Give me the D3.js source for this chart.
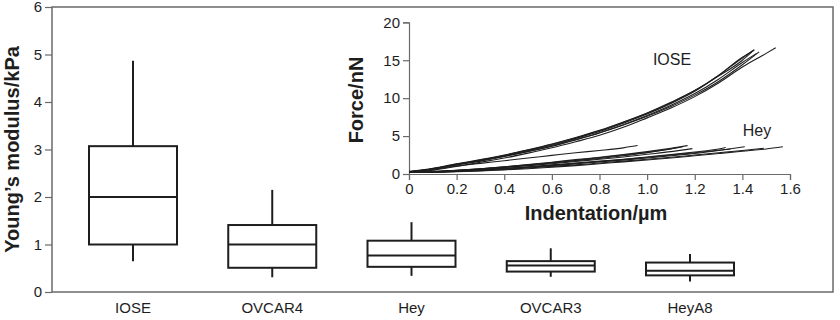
<!DOCTYPE html>
<html><head><meta charset="utf-8">
<script src="https://cdn.jsdelivr.net/npm/d3@7"></script>
<style>body{margin:0;background:#fff}svg{display:block;font-family:"Liberation Sans",Arial,sans-serif}</style>
</head><body><svg id="c" width="840" height="320"></svg>
<script>
// ---- main box plot data ----
const categories = ["IOSE","OVCAR4","Hey","OVCAR3","HeyA8"];
const whiskerLow  = [0.65, 0.31, 0.34, 0.32, 0.22];
const q1          = [1.00, 0.51, 0.53, 0.43, 0.35];
const median      = [2.00, 1.00, 0.77, 0.56, 0.45];
const q3          = [3.07, 1.41, 1.08, 0.65, 0.62];
const whiskerHigh = [4.87, 2.15, 1.47, 0.92, 0.80];
const yTicks = [0,1,2,3,4,5,6];

// ---- inset force curves ----
const insetXTicks = [0,0.2,0.4,0.6,0.8,1.0,1.2,1.4,1.6];
const insetXTickLabels = ["0","0.2","0.4","0.6","0.8","1.0","1.2","1.4","1.6"];
const insetYTicks = [0,5,10,15,20];
const ioseCurves = [
 [[0,0.3],[0.1,0.7],[0.2,1.3],[0.3,1.8],[0.4,2.4],[0.5,3.1],[0.6,3.8],[0.7,4.7],[0.8,5.6],[0.9,6.7],[1.0,7.9],[1.1,9.3],[1.2,10.9],[1.3,13.0],[1.4,15.3],[1.45,16.4]],
 [[0,0.35],[0.1,0.75],[0.2,1.35],[0.3,1.9],[0.4,2.5],[0.5,3.2],[0.6,3.95],[0.7,4.8],[0.8,5.75],[0.9,6.85],[1.0,8.05],[1.1,9.45],[1.2,11.0],[1.3,12.9],[1.4,15.0],[1.44,16.1]],
 [[0,0.25],[0.1,0.6],[0.2,1.2],[0.3,1.7],[0.4,2.3],[0.5,2.95],[0.6,3.65],[0.7,4.5],[0.8,5.4],[0.9,6.45],[1.0,7.6],[1.1,8.9],[1.2,10.4],[1.3,12.2],[1.4,14.4],[1.47,16.1]],
 [[0,0.3],[0.1,0.65],[0.2,1.2],[0.3,1.75],[0.4,2.35],[0.5,3.0],[0.6,3.7],[0.7,4.55],[0.8,5.45],[0.9,6.5],[1.0,7.7],[1.1,9.05],[1.2,10.6],[1.3,12.5],[1.4,14.7],[1.46,15.9]],
 [[0,0.2],[0.1,0.5],[0.2,1.0],[0.3,1.55],[0.4,2.1],[0.5,2.75],[0.6,3.45],[0.7,4.25],[0.8,5.1],[0.9,6.15],[1.0,7.4],[1.1,8.7],[1.2,10.2],[1.3,12.0],[1.4,14.1],[1.5,15.9],[1.54,16.65]],
 [[0,0.3],[0.1,0.7],[0.2,1.25],[0.3,1.85],[0.4,2.45],[0.5,3.15],[0.6,3.9],[0.7,4.75],[0.8,5.7],[0.9,6.8],[1.0,8.0],[1.1,9.4],[1.2,11.0],[1.3,13.0],[1.4,15.4],[1.45,16.3]]
];
const heyCurves = [
 [[0,0.3],[0.1,0.6],[0.2,1.05],[0.3,1.4],[0.4,1.75],[0.5,2.1],[0.6,2.45],[0.7,2.8],[0.8,3.1],[0.9,3.45],[0.96,3.75]],
 [[0,0.3],[0.1,0.35],[0.2,0.5],[0.3,0.7],[0.4,0.95],[0.5,1.25],[0.6,1.55],[0.7,1.9],[0.8,2.2],[0.9,2.55],[1.0,2.95],[1.1,3.4],[1.17,3.75]],
 [[0,0.25],[0.1,0.3],[0.2,0.45],[0.3,0.65],[0.4,0.9],[0.5,1.15],[0.6,1.45],[0.7,1.75],[0.8,2.05],[0.9,2.4],[1.0,2.8],[1.1,3.3],[1.15,3.6]],
 [[0,0.3],[0.1,0.3],[0.2,0.45],[0.3,0.6],[0.4,0.85],[0.5,1.1],[0.6,1.35],[0.7,1.65],[0.8,1.95],[0.9,2.25],[1.0,2.6],[1.1,2.95],[1.19,3.35]],
 [[0,0.25],[0.1,0.3],[0.2,0.4],[0.3,0.55],[0.4,0.75],[0.5,0.95],[0.6,1.2],[0.7,1.45],[0.8,1.7],[0.9,1.95],[1.0,2.25],[1.1,2.55],[1.2,2.9],[1.3,3.3],[1.33,3.5]],
 [[0,0.2],[0.1,0.25],[0.2,0.35],[0.3,0.5],[0.4,0.7],[0.5,0.9],[0.6,1.1],[0.7,1.35],[0.8,1.6],[0.9,1.85],[1.0,2.1],[1.1,2.4],[1.2,2.7],[1.3,3.1],[1.41,3.6]],
 [[0,0.2],[0.1,0.25],[0.2,0.35],[0.3,0.45],[0.4,0.6],[0.5,0.8],[0.6,1.0],[0.7,1.2],[0.8,1.45],[0.9,1.7],[1.0,1.95],[1.1,2.2],[1.2,2.5],[1.3,2.8],[1.4,3.1],[1.49,3.4]],
 [[0,0.2],[0.1,0.2],[0.2,0.3],[0.3,0.4],[0.4,0.55],[0.5,0.7],[0.6,0.9],[0.7,1.1],[0.8,1.35],[0.9,1.6],[1.0,1.85],[1.1,2.1],[1.2,2.4],[1.3,2.7],[1.4,3.0],[1.5,3.3],[1.57,3.6]],
 [[0,0.25],[0.1,0.3],[0.2,0.4],[0.3,0.55],[0.4,0.7],[0.5,0.9],[0.6,1.15],[0.7,1.4],[0.8,1.65],[0.9,1.9],[1.0,2.2],[1.1,2.5],[1.2,2.8],[1.35,3.3]],
 [[0,0.3],[0.1,0.35],[0.2,0.5],[0.3,0.7],[0.4,0.95],[0.5,1.2],[0.6,1.5],[0.7,1.8],[0.8,2.15],[0.9,2.5],[1.0,2.85],[1.13,3.5]]
];

const svg = d3.select("#c");
const ink = "#1e1e1e", frame = "#6a6a6a";

// ---- main plot ----
const M = {l:52, r:833, t:7, b:292};
const x = d3.scalePoint().domain(categories).range([133, 690]);
const y = d3.scaleLinear().domain([0,6]).range([M.b, M.t]);
const boxW = 88;

svg.append("rect").attr("x",M.l).attr("y",M.t).attr("width",M.r-M.l).attr("height",M.b-M.t)
  .attr("fill","none").attr("stroke",frame).attr("stroke-width",1.5);

const yAx = svg.append("g").attr("transform",`translate(${M.l},0)`)
  .call(d3.axisLeft(y).tickValues(yTicks).tickSize(7).tickPadding(3).tickFormat(d3.format("d")));
yAx.select(".domain").remove();
yAx.selectAll("line").attr("stroke",frame).attr("stroke-width",1.2);
yAx.selectAll("text").attr("font-size",15).attr("fill",ink).attr("font-family","Liberation Sans, Arial, sans-serif");

svg.append("g").selectAll("text").data(categories).join("text")
  .attr("x",d=>x(d)).attr("y",313).attr("text-anchor","middle")
  .attr("font-size",15).attr("fill",ink).text(d=>d);

svg.append("text").attr("transform",`translate(19,${(M.t+M.b)/2}) rotate(-90)`)
  .attr("text-anchor","middle").attr("font-size",20).attr("font-weight","bold").attr("fill",ink)
  .text("Young’s modulus/kPa");

const boxes = svg.append("g").attr("stroke",ink).attr("stroke-width",2).attr("fill","none");
categories.forEach((c,i)=>{
  const cx = x(c);
  boxes.append("line").attr("x1",cx).attr("x2",cx).attr("y1",y(whiskerHigh[i])).attr("y2",y(q3[i]));
  boxes.append("line").attr("x1",cx).attr("x2",cx).attr("y1",y(q1[i])).attr("y2",y(whiskerLow[i]));
  boxes.append("rect").attr("x",cx-boxW/2).attr("width",boxW)
    .attr("y",y(q3[i])).attr("height",y(q1[i])-y(q3[i])).attr("fill","#fff");
  boxes.append("line").attr("x1",cx-boxW/2).attr("x2",cx+boxW/2).attr("y1",y(median[i])).attr("y2",y(median[i]));
});

// ---- inset ----
const ix = d3.scaleLinear().domain([0,1.6]).range([409, 790]);
const iy = d3.scaleLinear().domain([0,20]).range([174, 22.3]);

const ixAx = svg.append("g").attr("transform","translate(0,174)")
  .call(d3.axisBottom(ix).tickValues(insetXTicks).tickSizeOuter(0).tickSize(6).tickPadding(3)
    .tickFormat((d,i)=>insetXTickLabels[i]));
const iyAx = svg.append("g").attr("transform","translate(409,0)")
  .call(d3.axisLeft(iy).tickValues(insetYTicks).tickSizeOuter(0).tickSize(6).tickPadding(3));
[ixAx,iyAx].forEach(a=>{
  a.selectAll("path,line").attr("stroke",frame).attr("stroke-width",1.2);
  a.selectAll("text").attr("font-size",15).attr("fill",ink).attr("font-family","Liberation Sans, Arial, sans-serif");
});

const line = d3.line().x(d=>ix(d[0])).y(d=>iy(d[1])).curve(d3.curveMonotoneX);
svg.append("g").selectAll("path").data(ioseCurves.concat(heyCurves)).join("path")
  .attr("d",line).attr("fill","none").attr("stroke",ink).attr("stroke-width",1.1);

svg.append("text").attr("x",672).attr("y",65).attr("text-anchor","middle")
  .attr("font-size",16).attr("fill",ink).text("IOSE");
svg.append("text").attr("x",757).attr("y",136).attr("text-anchor","middle")
  .attr("font-size",16).attr("fill",ink).text("Hey");

svg.append("text").attr("x",596).attr("y",220).attr("text-anchor","middle")
  .attr("font-size",20).attr("font-weight","bold").attr("fill",ink).text("Indentation/µm");
svg.append("text").attr("transform","translate(363,100) rotate(-90)").attr("text-anchor","middle")
  .attr("font-size",20).attr("font-weight","bold").attr("fill",ink).text("Force/nN");
</script></body></html>
